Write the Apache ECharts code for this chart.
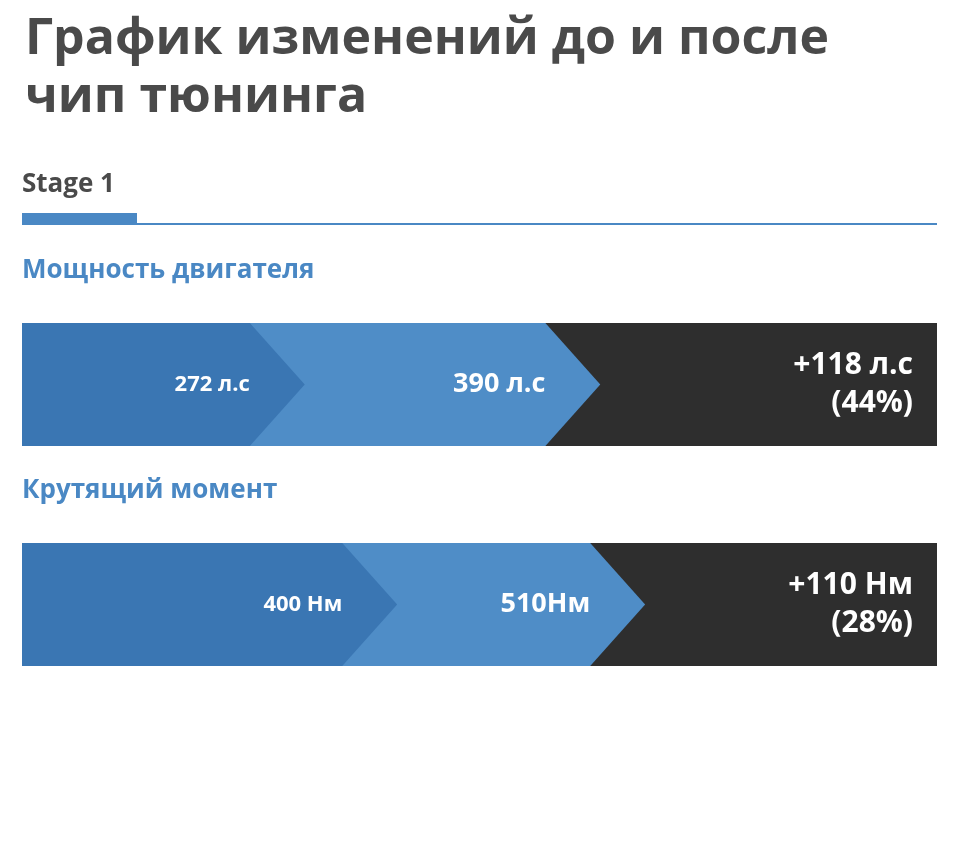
<!DOCTYPE html>
<html><head><meta charset="utf-8">
<script src="https://cdn.jsdelivr.net/npm/echarts@6/dist/echarts.min.js"></script>
<style>body{margin:0}#main{width:960px;height:848px}</style>
</head><body><div id="main"></div>
<script>
// данные: позиции концов сегментов в % ширины полосы
var rows = ['Мощность двигателя', 'Крутящий момент'];
var rowTop = [323, 543];
var beforeEnd = [24.9, 35.0];
var afterEnd = [57.2, 62.1];
var beforeLabel = ['272 л.с', '400 Нм'];
var afterLabel = ['390 л.с', '510Нм'];
var gainLabel = ['+118 л.с\n(44%)', '+110 Нм\n(28%)'];
var rowHeight = 123;
var tip = 6;

var myChart = echarts.init(document.getElementById('main'));
var FONT = 'Open Sans';

function renderRow(params, api) {
  var i = api.value(0);
  var top = rowTop[i], bot = top + rowHeight, mid = top + rowHeight / 2;
  var p = function (x, y) { return api.coord([x, y]); };
  var b = beforeEnd[i], a = afterEnd[i];
  var children = [
    {type: 'polygon', shape: {points: [p(0, top), p(100, top), p(100, bot), p(0, bot)]}, style: {fill: '#2e2e2e'}},
    {type: 'polygon', shape: {points: [p(0, top), p(a, top), p(a + tip, mid), p(a, bot), p(0, bot)]}, style: {fill: '#4f8dc7'}},
    {type: 'polygon', shape: {points: [p(0, top), p(b, top), p(b + tip, mid), p(b, bot), p(0, bot)]}, style: {fill: '#3a76b3'}},
    {type: 'text', position: p(b, mid), style: {text: beforeLabel[i], x: 0, y: 0, fill: '#fff', font: 'bold 22px ' + FONT, align: 'right', verticalAlign: 'middle'}},
    {type: 'text', position: p(a, mid), style: {text: afterLabel[i], x: 0, y: 0, fill: '#fff', font: 'bold 27px ' + FONT, align: 'right', verticalAlign: 'middle'}},
    {type: 'text', position: [p(100, mid)[0] - 24, p(100, mid)[1]], style: {text: gainLabel[i], x: 0, y: 0, fill: '#fff', font: 'bold 30px ' + FONT, lineHeight: 38, align: 'right', verticalAlign: 'middle'}},
    {type: 'text', position: p(0, top - 52), style: {text: rows[i], x: 0, y: 0, fill: '#4a88c4', font: 'bold 26px ' + FONT, verticalAlign: 'middle'}}
  ];
  return {type: 'group', children: children};
}

option = {
  animation: false,
  backgroundColor: '#fff',
  title: {
    text: 'График изменений до и после\nчип тюнинга',
    left: 20, top: 6,
    textStyle: {fontFamily: FONT, fontWeight: 'bold', fontSize: 50, lineHeight: 58, color: '#4a4a4a'}
  },
  graphic: [
    {type: 'text', left: 22, top: 172, style: {text: 'Stage 1', fill: '#4a4a4a', font: 'bold 26px ' + FONT}},
    {type: 'rect', left: 22, top: 213, shape: {width: 115, height: 10}, style: {fill: '#4a88c4'}},
    {type: 'rect', left: 22, top: 223, shape: {width: 915, height: 2}, style: {fill: '#4a88c4'}}
  ],
  grid: {left: 22, right: 23, top: 0, bottom: 0},
  xAxis: {type: 'value', min: 0, max: 100, show: false},
  yAxis: {type: 'value', min: 0, max: 848, inverse: true, show: false},
  series: [{
    type: 'custom',
    renderItem: renderRow,
    data: rows.map(function (r, i) { return [i]; }),
    encode: {x: -1, y: -1}
  }]
};
myChart.setOption(option);
</script>
</body></html>
